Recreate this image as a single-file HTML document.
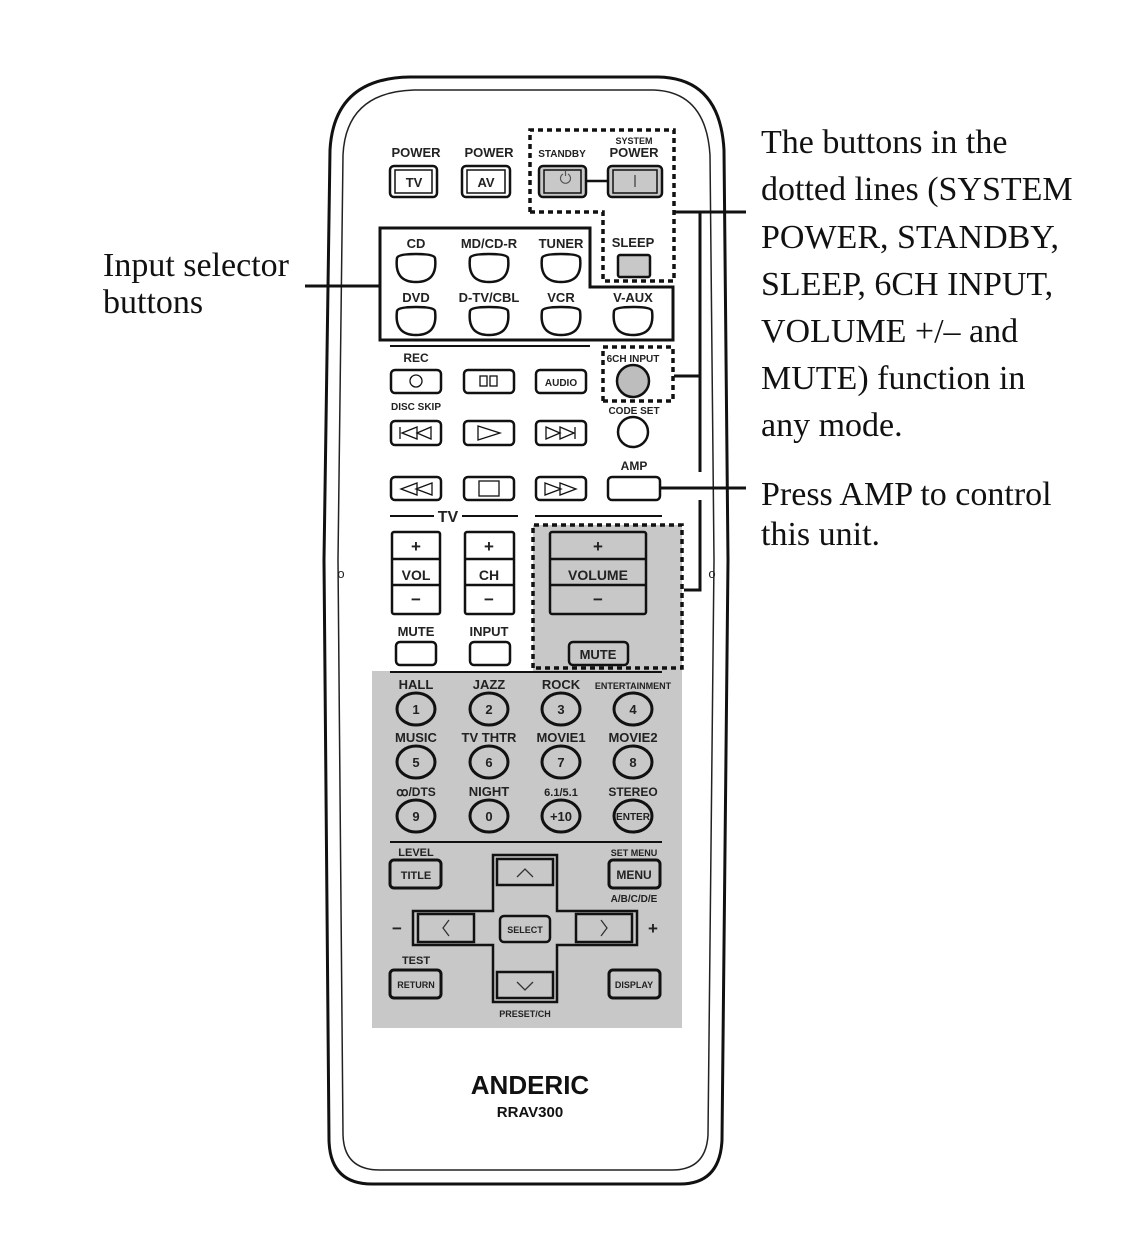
<!DOCTYPE html>
<html><head><style>
html,body{margin:0;padding:0;background:#fff;width:1145px;height:1233px;overflow:hidden}
svg{display:block}
.s{font-family:"Liberation Serif",serif;font-size:34px;fill:#111}
.l{font-family:"Liberation Sans",sans-serif;font-weight:bold;fill:#222;text-anchor:middle}
</style></head><body>
<svg width="1145" height="1233" viewBox="0 0 1145 1233" xmlns="http://www.w3.org/2000/svg">
<path d="M410,77 L658,77 Q720,78 724,150 L728,560 L722,1140 Q720,1184 680,1184 L372,1184 Q330,1184 329,1140 L324,560 L330,150 Q334,78 410,77 Z" fill="#fff" stroke="#111" stroke-width="3"/>
<path d="M414,90 L654,90 Q706,92 710,155 L714,560 L708,1135 Q706,1170 672,1170 L380,1170 Q344,1170 343,1135 L338,560 L343,155 Q346,92 414,90 Z" fill="none" stroke="#222" stroke-width="1.5"/>
<text x="341" y="578" class="l" style="font-weight:normal;font-size:13px">o</text>
<text x="712" y="578" class="l" style="font-weight:normal;font-size:13px">o</text>
<rect x="372" y="671" width="310" height="357" fill="#c8c8c8"/>
<rect x="533" y="525" width="149" height="146" fill="#c8c8c8"/>
<path d="M533,668 L533,525 L682,525 L682,668 L533,668" fill="none" stroke="#111" stroke-width="3.5" stroke-dasharray="5,4"/>
<path d="M530,212 L530,130 L674,130 L674,281 L603,281 L603,212 L530,212" fill="none" stroke="#111" stroke-width="3.5" stroke-dasharray="5,4"/>
<path d="M603,401 L603,347 L673,347 L673,401 L603,401" fill="none" stroke="#111" stroke-width="3.5" stroke-dasharray="5,4"/>
<g stroke="#111" stroke-width="3" fill="none">
<line x1="675" y1="212" x2="746" y2="212"/>
<path d="M700,212 L700,472 M700,500 L700,590 L684,590"/>
<line x1="674" y1="376" x2="700" y2="376"/>
<line x1="660" y1="488" x2="746" y2="488"/>
<line x1="305" y1="286" x2="380" y2="286"/>
<path d="M380,228 L590,228 L590,287 L673,287 L673,340 L380,340 Z"/>
</g>
<text x="103" y="276" class="s">Input selector</text>
<text x="103" y="313" class="s">buttons</text>
<text x="761" y="153" class="s">The buttons in the</text>
<text x="761" y="200" class="s">dotted lines (SYSTEM</text>
<text x="761" y="248" class="s">POWER, STANDBY,</text>
<text x="761" y="295" class="s">SLEEP, 6CH INPUT,</text>
<text x="761" y="342" class="s">VOLUME +/– and</text>
<text x="761" y="389" class="s">MUTE) function in</text>
<text x="761" y="436" class="s">any mode.</text>
<text x="761" y="505" class="s">Press AMP to control</text>
<text x="761" y="545" class="s">this unit.</text>

<g stroke="#111" stroke-width="2.5" fill="#fff">
<rect x="390" y="166" width="47" height="31" rx="4"/>
<rect x="395" y="170" width="37" height="23" stroke-width="1.5"/>
<rect x="462" y="166" width="48" height="31" rx="4"/>
<rect x="467" y="170" width="38" height="23" stroke-width="1.5"/>
<rect x="539" y="166" width="47" height="31" rx="4" fill="#c8c8c8"/>
<rect x="544" y="170" width="37" height="23" stroke-width="1.5" fill="#c8c8c8"/>
<rect x="608" y="166" width="54" height="31" rx="4" fill="#c8c8c8"/>
<rect x="613" y="170" width="44" height="23" stroke-width="1.5" fill="#c8c8c8"/>
<line x1="586" y1="181" x2="608" y2="181"/>
<rect x="618" y="255" width="32" height="22" rx="2" fill="#c8c8c8"/>
<path d="M397,258 Q398,254 416,254 Q434,254 435,258 Q438,282 416,282 Q394,282 397,258 Z"/>
<path d="M470,258 Q471,254 489,254 Q507,254 508,258 Q511,282 489,282 Q467,282 470,258 Z"/>
<path d="M542,258 Q543,254 561,254 Q579,254 580,258 Q583,282 561,282 Q539,282 542,258 Z"/>
<path d="M397,311 Q398,307 416,307 Q434,307 435,311 Q438,335 416,335 Q394,335 397,311 Z"/>
<path d="M470,311 Q471,307 489,307 Q507,307 508,311 Q511,335 489,335 Q467,335 470,311 Z"/>
<path d="M542,311 Q543,307 561,307 Q579,307 580,311 Q583,335 561,335 Q539,335 542,311 Z"/>
<path d="M614,311 Q615,307 633,307 Q651,307 652,311 Q655,335 633,335 Q611,335 614,311 Z"/>
<rect x="391" y="370" width="50" height="23" rx="4"/>
<rect x="464" y="370" width="50" height="23" rx="4"/>
<rect x="536" y="370" width="50" height="23" rx="4"/>
<circle cx="633" cy="381" r="16" fill="#bdbdbd"/>
<rect x="391" y="421" width="50" height="24" rx="4"/>
<rect x="464" y="421" width="50" height="24" rx="4"/>
<rect x="536" y="421" width="50" height="24" rx="4"/>
<circle cx="633" cy="432" r="15"/>
<rect x="391" y="477" width="50" height="23" rx="4"/>
<rect x="464" y="477" width="50" height="23" rx="4"/>
<rect x="536" y="477" width="50" height="23" rx="4"/>
<rect x="608" y="477" width="52" height="23" rx="4"/>
<rect x="392" y="532" width="48" height="82" rx="2"/>
<line x1="392" y1="559" x2="440" y2="559"/><line x1="392" y1="585" x2="440" y2="585"/>
<rect x="465" y="532" width="49" height="82" rx="2"/>
<line x1="465" y1="559" x2="514" y2="559"/><line x1="465" y1="585" x2="514" y2="585"/>
<rect x="550" y="532" width="96" height="82" rx="2" fill="#c8c8c8"/>
<line x1="550" y1="559" x2="646" y2="559"/><line x1="550" y1="585" x2="646" y2="585"/>
<rect x="396" y="642" width="40" height="23" rx="4"/>
<rect x="470" y="642" width="40" height="23" rx="4"/>
<rect x="569" y="642" width="59" height="23" rx="4" fill="#c8c8c8"/>
</g>
<g stroke="#111" stroke-width="2" fill="none">
<line x1="390" y1="346" x2="590" y2="346"/>
<line x1="390" y1="516" x2="434" y2="516"/><line x1="462" y1="516" x2="518" y2="516"/>
<line x1="535" y1="516" x2="662" y2="516"/>
<line x1="390" y1="672" x2="662" y2="672"/>
<line x1="390" y1="842" x2="662" y2="842"/>
<circle cx="416" cy="381" r="6" stroke-width="1.3"/>
<rect x="480" y="376" width="7" height="10" stroke-width="1.3"/><rect x="490" y="376" width="7" height="10" stroke-width="1.3"/>
<path d="M400,427 v12 M417,427 L402,433 L417,439 Z M431,427 L417,433 L431,439 Z" stroke-width="1.3"/>
<path d="M478,426 L500,433 L478,440 Z" stroke-width="1.3"/>
<path d="M546,427 L560,433 L546,439 Z M560,427 L574,433 L560,439 Z M575,427 v12" stroke-width="1.3"/>
<path d="M417,483 L401,489 L417,495 Z M432,483 L416,489 L432,495 Z" stroke-width="1.3"/>
<rect x="479" y="481" width="20" height="15" stroke-width="1.3"/>
<path d="M545,483 L561,489 L545,495 Z M560,483 L576,489 L560,495 Z" stroke-width="1.3"/>
<path d="M563,174 a5,5 0 1 0 5,0 M565.5,171 v5" stroke-width="1.2" stroke="#555"/>
<line x1="635" y1="175" x2="635" y2="187" stroke="#555" stroke-width="1.5"/>
</g>
<g class="l">
<text x="416" y="157" font-size="13">POWER</text>
<text x="489" y="157" font-size="13">POWER</text>
<text x="562" y="157" font-size="10">STANDBY</text>
<text x="634" y="144" font-size="9">SYSTEM</text>
<text x="634" y="157" font-size="13">POWER</text>
<text x="414" y="187" font-size="13">TV</text>
<text x="486" y="187" font-size="13">AV</text>
<text x="633" y="247" font-size="13">SLEEP</text>
<text x="416" y="248" font-size="13">CD</text>
<text x="489" y="248" font-size="13">MD/CD-R</text>
<text x="561" y="248" font-size="13">TUNER</text>
<text x="416" y="302" font-size="13">DVD</text>
<text x="489" y="302" font-size="13">D-TV/CBL</text>
<text x="561" y="302" font-size="13">VCR</text>
<text x="633" y="302" font-size="13">V-AUX</text>
<text x="416" y="362" font-size="12">REC</text>
<text x="633" y="362" font-size="10">6CH INPUT</text>
<text x="561" y="386" font-size="10">AUDIO</text>
<text x="416" y="410" font-size="10">DISC SKIP</text>
<text x="634" y="414" font-size="10">CODE SET</text>
<text x="634" y="470" font-size="12">AMP</text>
<text x="448" y="522" font-size="16">TV</text>
<text x="416" y="552" font-size="17">+</text>
<text x="416" y="580" font-size="14">VOL</text>
<text x="416" y="605" font-size="17">−</text>
<text x="489" y="552" font-size="17">+</text>
<text x="489" y="580" font-size="14">CH</text>
<text x="489" y="605" font-size="17">−</text>
<text x="598" y="552" font-size="17">+</text>
<text x="598" y="580" font-size="14">VOLUME</text>
<text x="598" y="605" font-size="17">−</text>
<text x="416" y="636" font-size="13">MUTE</text>
<text x="489" y="636" font-size="13">INPUT</text>
<text x="598" y="659" font-size="13">MUTE</text>
<text x="416" y="689" font-size="13">HALL</text>
<text x="489" y="689" font-size="13">JAZZ</text>
<text x="561" y="689" font-size="13">ROCK</text>
<text x="633" y="689" font-size="9">ENTERTAINMENT</text>
<text x="416" y="742" font-size="13">MUSIC</text>
<text x="489" y="742" font-size="13">TV THTR</text>
<text x="561" y="742" font-size="13">MOVIE1</text>
<text x="633" y="742" font-size="13">MOVIE2</text>
<text x="416" y="796" font-size="12">ꝏ/DTS</text>
<text x="489" y="796" font-size="13">NIGHT</text>
<text x="561" y="796" font-size="11">6.1/5.1</text>
<text x="633" y="796" font-size="12">STEREO</text>
<text x="416" y="856" font-size="11">LEVEL</text>
<text x="634" y="856" font-size="9">SET MENU</text>
<text x="634" y="902" font-size="10">A/B/C/D/E</text>
<text x="416" y="964" font-size="11">TEST</text>
<text x="525" y="1017" font-size="9">PRESET/CH</text>
<text x="397" y="934" font-size="17">−</text>
<text x="653" y="934" font-size="17">+</text>
</g>
<g stroke="#111" stroke-width="3" fill="#c8c8c8">
<ellipse cx="416" cy="709" rx="19" ry="16"/><ellipse cx="489" cy="709" rx="19" ry="16"/><ellipse cx="561" cy="709" rx="19" ry="16"/><ellipse cx="633" cy="709" rx="19" ry="16"/>
<ellipse cx="416" cy="762" rx="19" ry="16"/><ellipse cx="489" cy="762" rx="19" ry="16"/><ellipse cx="561" cy="762" rx="19" ry="16"/><ellipse cx="633" cy="762" rx="19" ry="16"/>
<ellipse cx="416" cy="816" rx="19" ry="16"/><ellipse cx="489" cy="816" rx="19" ry="16"/><ellipse cx="561" cy="816" rx="19" ry="16"/><ellipse cx="633" cy="816" rx="19" ry="16"/>
<rect x="390" y="860" width="51" height="28" rx="4"/>
<rect x="609" y="860" width="51" height="28" rx="4"/>
<rect x="390" y="970" width="51" height="28" rx="4"/>
<rect x="609" y="970" width="51" height="28" rx="4"/>
<path d="M493,855 L557,855 L557,911 L637,911 L637,945 L557,945 L557,1002 L493,1002 L493,945 L413,945 L413,911 L493,911 Z" stroke-width="2.5"/>
<rect x="497" y="859" width="56" height="26" stroke-width="2.5"/>
<rect x="497" y="972" width="56" height="26" stroke-width="2.5"/>
<rect x="418" y="914" width="56" height="28" stroke-width="2.5"/>
<rect x="576" y="914" width="56" height="28" stroke-width="2.5"/>
<rect x="500" y="916" width="50" height="26" rx="4" stroke-width="2.5"/>
</g>
<g stroke="#333" stroke-width="1.3" fill="none">
<path d="M517,877 L525,869 L533,877"/><path d="M517,982 L525,990 L533,982"/>
<path d="M449,920 L443,928 L449,936"/><path d="M601,920 L607,928 L601,936"/>
</g>
<g class="l">
<text x="416" y="714" font-size="13">1</text><text x="489" y="714" font-size="13">2</text><text x="561" y="714" font-size="13">3</text><text x="633" y="714" font-size="13">4</text>
<text x="416" y="767" font-size="13">5</text><text x="489" y="767" font-size="13">6</text><text x="561" y="767" font-size="13">7</text><text x="633" y="767" font-size="13">8</text>
<text x="416" y="821" font-size="13">9</text><text x="489" y="821" font-size="13">0</text><text x="561" y="821" font-size="13">+10</text><text x="633" y="820" font-size="10">ENTER</text>
<text x="416" y="879" font-size="11">TITLE</text>
<text x="634" y="879" font-size="12">MENU</text>
<text x="416" y="988" font-size="9">RETURN</text>
<text x="634" y="988" font-size="9">DISPLAY</text>
<text x="525" y="933" font-size="9">SELECT</text>
<text x="530" y="1094" font-size="26" fill="#111">ANDERIC</text>
<text x="530" y="1117" font-size="15" fill="#111">RRAV300</text>
</g>
</svg>
</body></html>
